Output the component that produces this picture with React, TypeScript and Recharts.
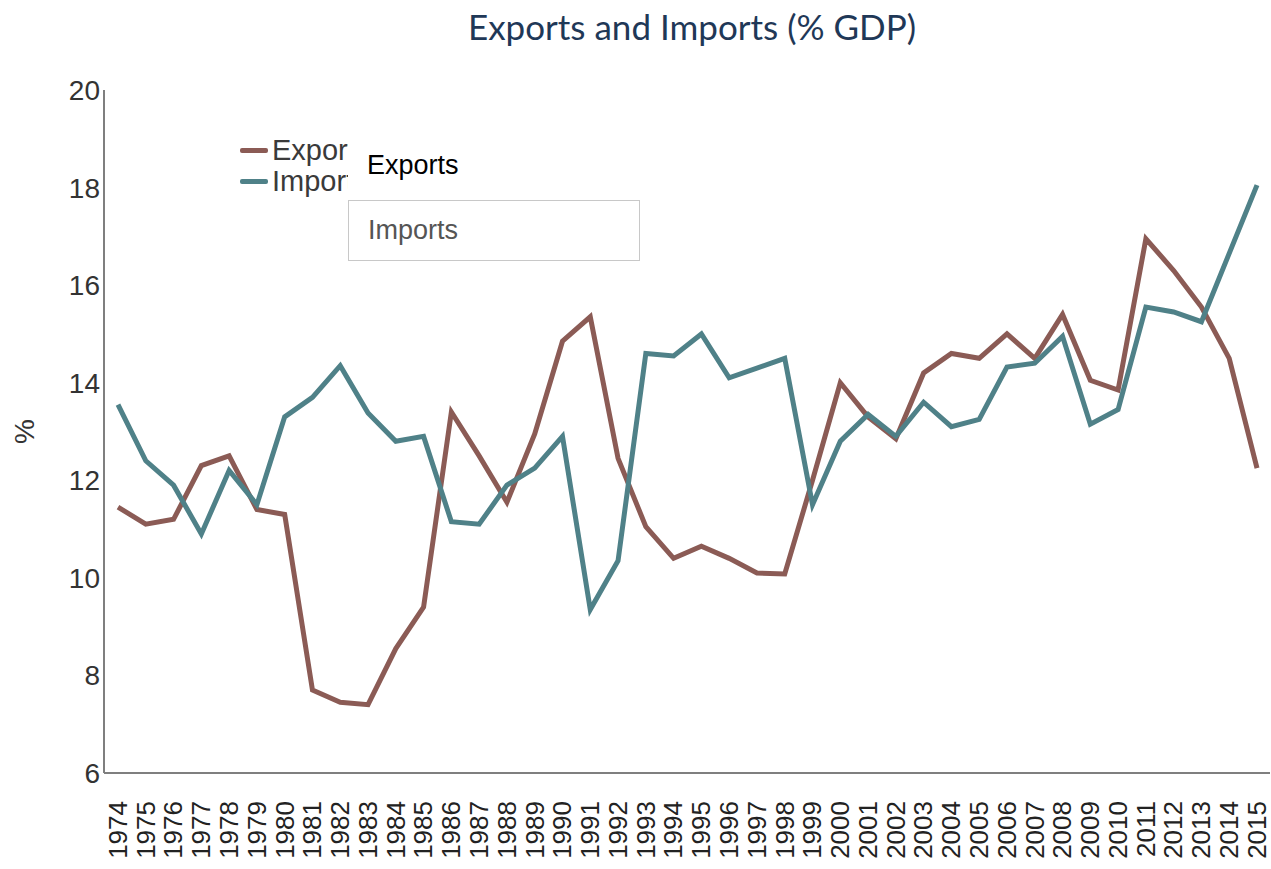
import { LineChart, Line, XAxis, YAxis, Legend } from "recharts";

const years = [
  "1974", "1975", "1976", "1977", "1978", "1979", "1980", "1981", "1982", "1983",
  "1984", "1985", "1986", "1987", "1988", "1989", "1990", "1991", "1992", "1993",
  "1994", "1995", "1996", "1997", "1998", "1999", "2000", "2001", "2002", "2003",
  "2004", "2005", "2006", "2007", "2008", "2009", "2010", "2011", "2012", "2013",
  "2014", "2015",
];

const exportsPct = [
  11.45, 11.1, 11.2, 12.3, 12.5, 11.4, 11.3, 7.7, 7.45, 7.4,
  8.55, 9.4, 13.4, 12.5, 11.55, 12.95, 14.85, 15.35, 12.45, 11.05,
  10.4, 10.65, 10.4, 10.1, 10.08, 12.0, 14.0, 13.3, 12.85, 14.2,
  14.6, 14.5, 15.0, 14.5, 15.4, 14.05, 13.85, 16.95, 16.3, 15.55,
  14.5, 12.25,
];

const importsPct = [
  13.55, 12.4, 11.9, 10.9, 12.2, 11.5, 13.3, 13.7, 14.35, 13.38,
  12.8, 12.9, 11.15, 11.1, 11.9, 12.25, 12.9, 9.35, 10.35, 14.6,
  14.55, 15.0, 14.1, 14.3, 14.5, 11.5, 12.8, 13.35, 12.9, 13.6,
  13.1, 13.25, 14.32, 14.4, 14.95, 13.15, 13.45, 15.55, 15.45, 15.25,
  16.65, 18.05,
];

const yTicks = [6, 8, 10, 12, 14, 16, 18, 20];

const data = years.map((year, i) => ({
  year,
  exports: exportsPct[i],
  imports: importsPct[i],
}));

const FONT = "'Liberation Sans', Arial, sans-serif";
const EXPORTS_COLOR = "#8b5b55";
const IMPORTS_COLOR = "#4f8188";

const YearTick = ({ x, y, payload }: any) => (
  <text
    x={x}
    y={y + 20}
    transform={`rotate(-90 ${x} ${y + 20})`}
    textAnchor="end"
    dy="0.34em"
    fill="#222"
    fontSize={26}
    fontFamily={FONT}
  >
    {payload.value}
  </text>
);

const LegendBox = ({ payload }: any) => (
  <div style={{ position: "relative", width: 420, height: 130, fontFamily: FONT }}>
    {(payload || []).map((entry: any, i: number) => (
      <div
        key={entry.value}
        style={{
          position: "absolute",
          left: 0,
          top: i * 31,
          height: 30,
          display: "flex",
          alignItems: "center",
          whiteSpace: "nowrap",
          color: "#3a3a3a",
          fontSize: 29,
        }}
      >
        <span
          style={{
            display: "inline-block",
            width: 28,
            height: 5,
            borderRadius: 2,
            background: entry.color,
            marginRight: 4,
          }}
        />
        {entry.value}
      </div>
    ))}
    {/* white cover that cuts the legend names */}
    <div
      style={{
        position: "absolute",
        left: 108,
        top: 0,
        width: 200,
        height: 60,
        background: "#fff",
        display: "flex",
        alignItems: "center",
        paddingLeft: 19,
        boxSizing: "border-box",
        color: "#000",
        fontSize: 27,
      }}
    >
      Exports
    </div>
    <div
      style={{
        position: "absolute",
        left: 108,
        top: 65,
        width: 292,
        height: 61,
        background: "#fff",
        border: "1px solid #c8c8c8",
        display: "flex",
        alignItems: "center",
        paddingLeft: 19,
        boxSizing: "border-box",
        color: "#555",
        fontSize: 27,
      }}
    >
      Imports
    </div>
  </div>
);

export default function App() {
  return (
    <div
      style={{
        position: "absolute",
        left: 0,
        top: 0,
        width: 1271,
        height: 869,
        background: "#fff",
      }}
    >
      <div
        style={{
          position: "absolute",
          left: 0,
          top: 5,
          width: 1384,
          textAlign: "center",
          fontFamily: "Lato, 'Open Sans', sans-serif",
          fontSize: 35,
          color: "#1f3857",
        }}
      >
        Exports and Imports (% GDP)
      </div>
      <LineChart
        width={1271}
        height={869}
        data={data}
        margin={{ top: 90, right: 1, bottom: 0, left: 0 }}
      >
        <XAxis
          dataKey="year"
          interval={0}
          tick={<YearTick />}
          tickLine={false}
          padding={{ left: 14, right: 13 }}
          height={96}
          stroke="#7f7f7f"
          strokeWidth={2}
        />
        <YAxis
          width={104}
          domain={[6, 20]}
          ticks={yTicks}
          tickLine={false}
          tickSize={2}
          tickMargin={2}
          stroke="#7f7f7f"
          strokeWidth={2}
          tick={{ fill: "#333", fontSize: 28, fontFamily: FONT }}
          label={{
            value: "%",
            angle: -90,
            position: "insideLeft",
            offset: 24,
            fill: "#333",
            fontSize: 28,
            fontFamily: FONT,
            style: { textAnchor: "middle" },
          }}
        />
        <Legend
          layout="vertical"
          align="center"
          verticalAlign="middle"
          wrapperStyle={{ left: 240, top: 135, width: 420 }}
          content={<LegendBox />}
        />
        <Line
          type="linear"
          dataKey="exports"
          name="Exports"
          stroke={EXPORTS_COLOR}
          strokeWidth={5}
          dot={false}
          isAnimationActive={false}
        />
        <Line
          type="linear"
          dataKey="imports"
          name="Imports"
          stroke={IMPORTS_COLOR}
          strokeWidth={5}
          dot={false}
          isAnimationActive={false}
        />
      </LineChart>
    </div>
  );
}
